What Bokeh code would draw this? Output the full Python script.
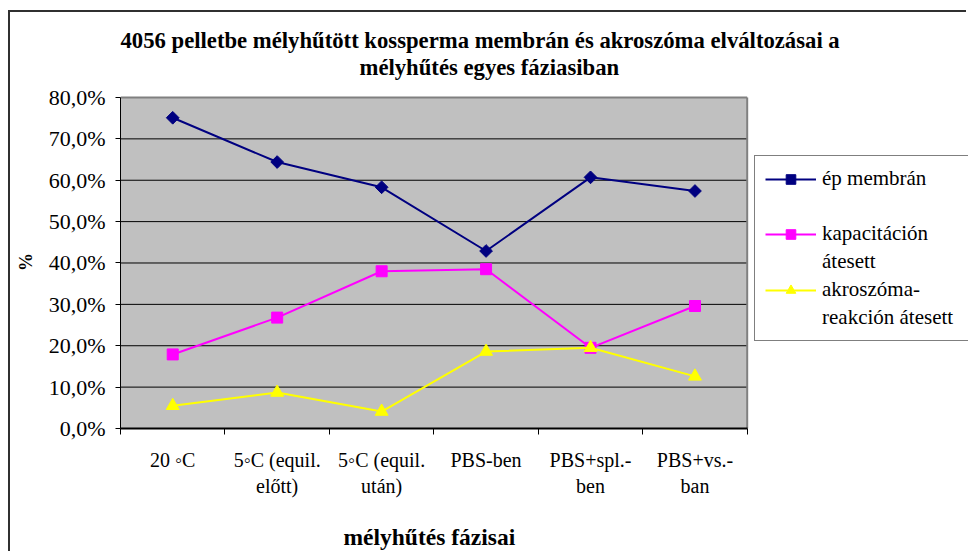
import math
from bokeh.plotting import figure
from bokeh.models import Range1d, FixedTicker, Legend, LegendItem, Title
from bokeh.embed import file_html
from bokeh.resources import INLINE

# ---- data -------------------------------------------------------------
categories = ["20 \u25e6C", "5\u25e6C (equil.\nel\u0151tt)", "5\u25e6C (equil.\nut\u00e1n)",
              "PBS-ben", "PBS+spl.-\nben", "PBS+vs.-\nban"]
ep_membran = [75.1, 64.4, 58.3, 42.9, 60.7, 57.4]
kapacitacio = [17.9, 26.8, 38.0, 38.5, 19.5, 29.6]
akroszoma = [5.5, 8.7, 4.1, 18.6, 19.5, 12.6]
y_ticks = [0, 10, 20, 30, 40, 50, 60, 70, 80]
y_tick_labels = ["0,0%", "10,0%", "20,0%", "30,0%", "40,0%", "50,0%", "60,0%", "70,0%", "80,0%"]
series_names = ["\u00e9p membr\u00e1n", "kapacit\u00e1ci\u00f3n", "akrosz\u00f3ma-"]
series_names_2 = ["", "\u00e1tesett", "reakci\u00f3n \u00e1tesett"]
title_line_1 = "4056 pelletbe m\u00e9lyh\u0171t\u00f6tt kossperma membr\u00e1n \u00e9s akrosz\u00f3ma elv\u00e1ltoz\u00e1sai a"
title_line_2 = "m\u00e9lyh\u0171t\u00e9s egyes f\u00e1ziasiban"
x_title = "m\u00e9lyh\u0171t\u00e9s f\u00e1zisai"
y_title = "%"

FONT = "Liberation Serif"
n = len(categories)
xs = [i + 0.5 for i in range(n)]
y_max = max(y_ticks)

# plot area (data region) is 626.7 px wide inside a frame of 848 px (legend lives in the frame)
FRAME_W, DATA_W = 848.0, 626.7
FRAME_H, DATA_H = 334.0, 332.0

p = figure(width=958, height=541,
           x_range=Range1d(0, n * FRAME_W / DATA_W),
           y_range=Range1d(0, y_max * FRAME_H / DATA_H),
           output_backend="svg", toolbar_location=None,
           min_border_left=110, min_border_right=0, min_border_top=83, min_border_bottom=124)
p.styles = {"margin-left": "8px", "margin-top": "10px",
            "border-left": "2px solid #303030", "border-top": "2px solid #303030"}
p.background_fill_color = "white"
p.border_fill_color = "white"
p.outline_line_color = None
p.xgrid.visible = False
p.ygrid.visible = False

# plot area background, grid lines and gray border
p.quad(left=0, right=n, bottom=0, top=y_max, fill_color="#C0C0C0", line_color=None)
p.segment(x0=[0] * (len(y_ticks) - 2), x1=[n] * (len(y_ticks) - 2),
          y0=y_ticks[1:-1], y1=y_ticks[1:-1], line_color="black", line_width=1)
p.segment(x0=[0, n], x1=[n, n], y0=[y_max, 0], y1=[y_max, y_max],
          line_color="#808080", line_width=2)

xa = p.xaxis[0]
xa.bounds = (0, n)
xa.ticker = FixedTicker(ticks=xs, minor_ticks=list(range(n + 1)))
xa.major_label_overrides = {x: c for x, c in zip(xs, categories)}
xa.major_tick_line_color = None
xa.minor_tick_line_color = "black"
xa.minor_tick_out = 6
xa.minor_tick_in = 0
xa.axis_line_color = "black"
xa.axis_line_width = 2
xa.major_label_text_font = FONT
xa.major_label_text_font_size = "20px"
xa.major_label_text_color = "black"
xa.major_label_standoff = 14

ya = p.yaxis[0]
ya.bounds = (0, y_max)
ya.ticker = FixedTicker(ticks=y_ticks, minor_ticks=[])
ya.major_label_overrides = {t: l for t, l in zip(y_ticks, y_tick_labels)}
ya.major_tick_out = 5
ya.major_tick_in = 0
ya.major_tick_line_color = "black"
ya.axis_line_color = "black"
ya.axis_line_width = 1
ya.major_label_text_font = FONT
ya.major_label_text_font_size = "22px"
ya.major_label_text_color = "black"
ya.major_label_standoff = 10
ya.axis_label = y_title
ya.axis_label_text_font = FONT
ya.axis_label_text_font_style = "bold"
ya.axis_label_text_font_size = "18px"
ya.axis_label_text_color = "black"
ya.axis_label_standoff = 10

colors = ["#000080", "#FF00FF", "#FFFF00"]
markers = ["square", "square", "triangle"]
angles = [math.pi / 4, 0, 0]
sizes = [9, 11, 13]
data = [ep_membran, kapacitacio, akroszoma]
items = []
for i, (ys, col, mk, sz, an) in enumerate(zip(data, colors, markers, sizes, angles)):
    ln = p.line(xs, ys, line_color=col, line_width=2)
    sc = p.scatter(xs, ys, marker=mk, size=sz, angle=an, fill_color=col, line_color=col)
    items.append(LegendItem(label=series_names[i], renderers=[ln, sc]))
    dummy = p.line([], [], line_alpha=0)
    items.append(LegendItem(label=series_names_2[i] if series_names_2[i] else " ", renderers=[dummy]))

legend = Legend(items=items, location=(634, 87), orientation="vertical",
                label_text_font=FONT, label_text_font_size="21px", label_text_color="black",
                label_height=24, glyph_height=24, glyph_width=51, spacing=3, padding=10,
                label_standoff=6, label_width=150, border_line_color="black", border_line_width=1,
                background_fill_color="white", background_fill_alpha=1.0, margin=0)
p.add_layout(legend, "center")

# titles (stacked outward from the frame)
spacer = Title(text=" ", text_font_size="12px", standoff=0)
t2 = Title(text=title_line_2, align="left", offset=239, text_font=FONT,
           text_font_style="bold", text_font_size="22.7px", text_color="black", standoff=0)
t1 = Title(text=title_line_1, align="left", offset=0, text_font=FONT,
           text_font_style="bold", text_font_size="22.7px", text_color="black", standoff=0)
p.add_layout(spacer, "above")
p.add_layout(t2, "above")
p.add_layout(t1, "above")

xspacer = Title(text=" ", text_font_size="12px", standoff=2)
xt = Title(text=x_title, align="left", offset=223, text_font=FONT, text_font_style="bold",
           text_font_size="23.5px", text_color="black", standoff=8)
p.add_layout(xspacer, "below")
p.add_layout(xt, "below")

open("out.html", "w").write(file_html(p, INLINE))
